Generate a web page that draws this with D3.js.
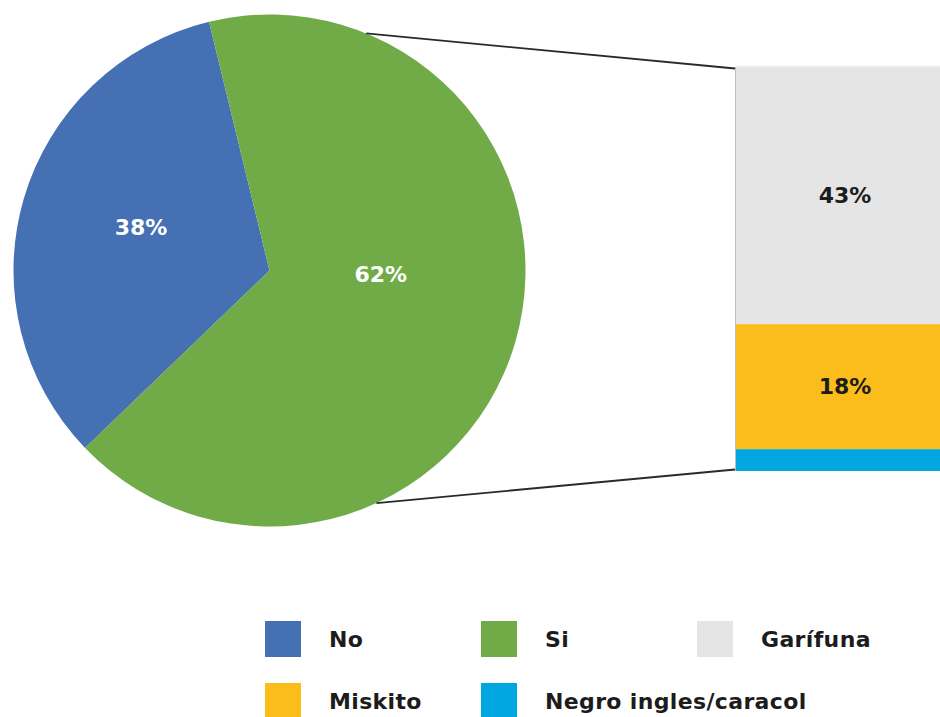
<!DOCTYPE html>
<html>
<head>
<meta charset="utf-8">
<script src="https://cdn.jsdelivr.net/npm/d3@7"></script>
<style>
  html, body { margin: 0; padding: 0; background: #ffffff; overflow: hidden; }
  svg { display: block; }
  text { font-family: "DejaVu Sans", sans-serif; font-weight: bold; }
</style>
</head>
<body>
<svg id="chart" width="940" height="717"></svg>
<script>
// ---- data ----
const pieCategories = ["No", "Si"];
const pieValues = [33.4, 66.6];
const pieLabels = ["38%", "62%"];

const barCategories = ["Garífuna", "Miskito", "Negro ingles/caracol"];
const barValues = [42.4, 20.6, 3.6];
const barLabels = ["43%", "18%", ""];

const legendOrder = ["No", "Si", "Garífuna", "Miskito", "Negro ingles/caracol"];

// ---- styles ----
const colors = {
  "No": "#4570b4",
  "Si": "#70ab47",
  "Garífuna": "#e5e5e5",
  "Miskito": "#fbbd1b",
  "Negro ingles/caracol": "#00a6e0"
};
const deg = Math.PI / 180;

const svg = d3.select("#chart");

// ---- pie ----
const cx = 269.5, cy = 270.5, R = 256;
const pieStart = -133.9 * deg;
const pie = d3.pie().sort(null).startAngle(pieStart).endAngle(pieStart + 2 * Math.PI);
const arcs = pie(pieValues);
const arc = d3.arc().innerRadius(0).outerRadius(R);

const gPie = svg.append("g").attr("transform", `translate(${cx},${cy})`);
gPie.selectAll("path").data(arcs).join("path")
  .attr("d", arc)
  .attr("fill", (d, i) => colors[pieCategories[i]]);

// label placement (polar, relative to centre)
const labelPolar = [{a: -71.3, f: 0.53}, {a: 92.3, f: 0.435}];
gPie.selectAll("text").data(arcs).join("text")
  .attr("x", (d, i) => Math.sin(labelPolar[i].a * deg) * R * labelPolar[i].f)
  .attr("y", (d, i) => -Math.cos(labelPolar[i].a * deg) * R * labelPolar[i].f)
  .attr("text-anchor", "middle")
  .attr("dominant-baseline", "central")
  .attr("fill", "#ffffff")
  .attr("font-size", 22)
  .text((d, i) => pieLabels[i]);

// ---- bar of pie ----
const barX = 736, barW = 218;
const barTop = 67, barBottom = 471;
const total = d3.sum(barValues);
const y = d3.scaleLinear().domain([0, total]).range([barTop, barBottom]);
const stacked = [];
let acc = 0;
barValues.forEach((v, i) => { stacked.push({cat: barCategories[i], y0: acc, y1: acc + v, label: barLabels[i]}); acc += v; });

const gBar = svg.append("g");
gBar.selectAll("rect").data(stacked).join("rect")
  .attr("x", barX)
  .attr("width", barW)
  .attr("y", d => y(d.y0))
  .attr("height", d => y(d.y1) - y(d.y0))
  .attr("fill", d => colors[d.cat]);
gBar.append("line")
  .attr("x1", barX - 0.5).attr("x2", barX - 0.5)
  .attr("y1", y(0)).attr("y2", y(total))
  .attr("stroke", "#bdbdbd").attr("stroke-width", 1);
gBar.append("line")
  .attr("x1", barX).attr("x2", barX + barW)
  .attr("y1", y(0) - 0.5).attr("y2", y(0) - 0.5)
  .attr("stroke", "#eeeeee").attr("stroke-width", 1.5);
gBar.selectAll("text").data(stacked).join("text")
  .attr("x", barX + 109)
  .attr("y", d => (y(d.y0) + y(d.y1)) / 2)
  .attr("text-anchor", "middle")
  .attr("dominant-baseline", "central")
  .attr("fill", "#1c1c1c")
  .attr("font-size", 22)
  .text(d => d.label);

// ---- connector lines ----
const connAngles = [22.2 * deg, 155.3 * deg];
const connEnds = [y(0) + 1.5, y(total) - 1.5];
connAngles.forEach((a, i) => {
  svg.append("line")
    .attr("x1", cx + Math.sin(a) * R)
    .attr("y1", cy - Math.cos(a) * R)
    .attr("x2", barX - 1)
    .attr("y2", connEnds[i])
    .attr("stroke", "#2a2a2a")
    .attr("stroke-width", 1.8);
});

// ---- legend ----
const legX = [265, 481, 697];
const legY = [621, 683];
const gLeg = svg.append("g");
legendOrder.forEach((name, i) => {
  const col = i % 3, row = Math.floor(i / 3);
  const g = gLeg.append("g").attr("transform", `translate(${legX[col]},${legY[row]})`);
  g.append("rect").attr("width", 36).attr("height", 36).attr("fill", colors[name]);
  g.append("text")
    .attr("x", 64).attr("y", 18)
    .attr("dominant-baseline", "central")
    .attr("fill", "#1c1c1c")
    .attr("font-size", 22)
    .attr("letter-spacing", 0.35)
    .text(name);
});
</script>
</body>
</html>
